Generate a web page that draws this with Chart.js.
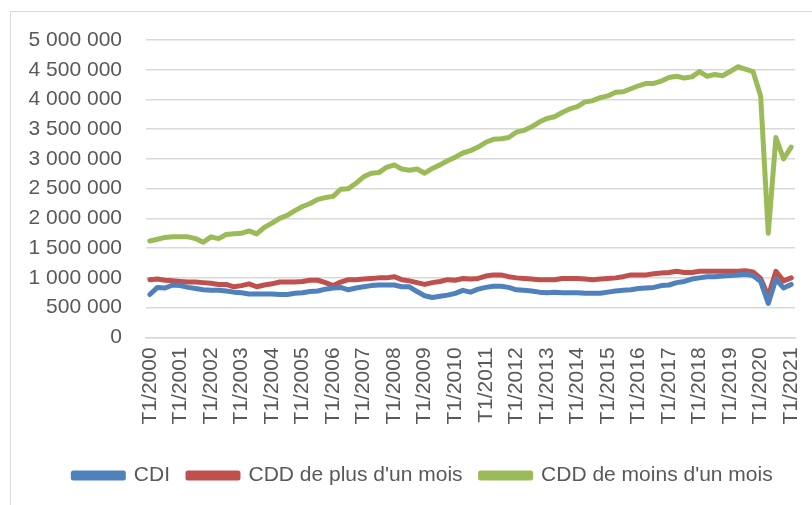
<!DOCTYPE html>
<html>
<head>
<meta charset="utf-8">
<script src="https://cdn.jsdelivr.net/npm/chart.js@4/dist/chart.umd.min.js"></script>
<style>
  html, body { margin: 0; padding: 0; background: #ffffff; overflow: hidden; }
  #frame { position: absolute; left: 10px; top: 11px; width: 900px; height: 600px;
           border-left: 1.5px solid #d9d9d9; border-top: 1.5px solid #d9d9d9; }
  #wrap { position: absolute; left: 0; top: 0; width: 812px; height: 505px; }
</style>
</head>
<body>
<div id="frame"></div>
<div id="wrap"><canvas id="c" width="812" height="505"></canvas></div>
<script>
// Categories: quarters T1/2000 .. T1/2021
const years = [2000,2001,2002,2003,2004,2005,2006,2007,2008,2009,2010,2011,2012,2013,2014,2015,2016,2017,2018,2019,2020,2021];
const quarters = ["T1","T2","T3","T4"];
const categories = [];
years.forEach(y => quarters.forEach(q => { if (!(y === 2021 && q !== "T1")) categories.push(q + "/" + y); }));

const seriesNames = ["CDI", "CDD de plus d'un mois", "CDD de moins d'un mois"];

const cdi = [720000,840000,830000,880000,870000,840000,820000,800000,790000,790000,
  780000,760000,750000,730000,730000,730000,730000,720000,720000,740000,
  750000,770000,780000,810000,830000,840000,800000,830000,850000,870000,
  880000,880000,880000,850000,850000,770000,700000,670000,690000,710000,
  740000,790000,760000,810000,840000,860000,860000,840000,800000,790000,
  780000,760000,750000,760000,750000,750000,750000,740000,740000,740000,
  760000,780000,790000,800000,820000,830000,840000,870000,880000,920000,
  940000,980000,1000000,1020000,1020000,1030000,1040000,1050000,1060000,1040000,
  940000,570000,980000,830000,890000];

const cddPlus = [970000,980000,960000,950000,940000,930000,930000,920000,910000,890000,
  890000,850000,870000,900000,850000,880000,900000,930000,930000,930000,
  940000,960000,960000,920000,870000,930000,970000,970000,980000,990000,
  1000000,1000000,1020000,970000,950000,920000,890000,920000,940000,970000,
  960000,990000,980000,990000,1030000,1050000,1050000,1020000,1000000,990000,
  980000,970000,970000,970000,990000,990000,990000,980000,970000,980000,
  990000,1000000,1020000,1050000,1050000,1050000,1070000,1080000,1090000,1110000,
  1090000,1090000,1110000,1110000,1110000,1110000,1110000,1110000,1120000,1100000,
  990000,690000,1110000,950000,1000000];

const cddMoins = [1620000,1650000,1680000,1690000,1690000,1690000,1660000,1600000,1690000,1660000,
  1730000,1740000,1750000,1790000,1740000,1850000,1920000,2000000,2050000,2130000,
  2200000,2250000,2320000,2350000,2370000,2490000,2500000,2590000,2700000,2760000,
  2770000,2860000,2900000,2830000,2810000,2830000,2760000,2840000,2900000,2970000,
  3030000,3100000,3140000,3200000,3280000,3330000,3340000,3360000,3450000,3480000,
  3540000,3620000,3680000,3710000,3780000,3840000,3880000,3960000,3980000,4030000,
  4060000,4120000,4130000,4180000,4230000,4270000,4270000,4310000,4370000,4390000,
  4360000,4380000,4470000,4390000,4420000,4400000,4470000,4550000,4510000,4470000,
  4060000,1750000,3360000,3000000,3200000];

const yMin = 0, yMax = 5000000, yStep = 500000;

const colors = ["#4f81bd", "#c0504d", "#9bbb59"];
const seriesValues = [cdi, cddPlus, cddMoins];

function fmt(v) { return String(v).replace(/\B(?=(\d{3})+(?!\d))/g, " "); }

const FONT = { family: "'Liberation Sans', Arial, sans-serif", size: 21 };
const TXT = "#595959";

const legendShift = {
  id: "legendShift",
  afterLayout(chart) {
    if (chart.legend) { chart.legend.left += 12; chart.legend.right += 12; }
  }
};

new Chart(document.getElementById("c"), {
  type: "line",
  data: {
    labels: categories,
    datasets: seriesNames.map((n, k) => ({
      label: n,
      data: seriesValues[k],
      borderColor: colors[k],
      backgroundColor: colors[k],
      borderWidth: 5,
      pointRadius: 0,
      pointHoverRadius: 0,
      tension: 0,
      borderJoinStyle: "round",
      borderCapStyle: "round",
      fill: false
    }))
  },
  plugins: [legendShift],
  options: {
    responsive: false,
    animation: false,
    events: [],
    layout: { padding: { left: 27, right: 17, top: 40, bottom: 9 } },
    plugins: {
      tooltip: { enabled: false },
      legend: {
        position: "bottom",
        labels: {
          color: TXT, font: FONT, boxWidth: 50, boxHeight: 5, padding: 18
        }
      }
    },
    scales: {
      x: {
        offset: true,
        grid: { display: false, drawTicks: false },
        border: { display: true, color: "#d9d9d9", width: 1.5 },
        afterFit: s => { s.height += 12.6; s.paddingRight = 0; s.paddingLeft = 0; },
        ticks: {
          color: TXT, font: FONT, autoSkip: false, minRotation: 90, maxRotation: 90, padding: 10,
          callback: function(v, i) { return (i % 4 === 0) ? categories[i] : ""; }
        }
      },
      y: {
        min: yMin, max: yMax,
        grid: { color: "#d9d9d9", lineWidth: 1.5, drawTicks: false },
        border: { display: false },
        afterFit: s => { s.width = 119; },
        ticks: { color: TXT, font: FONT, stepSize: yStep, padding: 24, callback: v => fmt(v) }
      }
    }
  }
});
</script>
</body>
</html>
